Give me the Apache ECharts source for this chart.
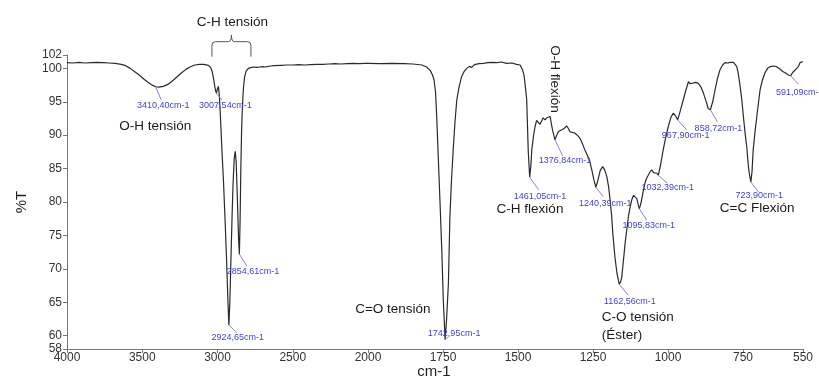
<!DOCTYPE html>
<html>
<head>
<meta charset="utf-8">
<script src="https://cdn.jsdelivr.net/npm/echarts@6/dist/echarts.min.js"></script>
<style>html,body{margin:0;padding:0;background:#fff}#c{width:819px;height:376px}</style>
</head>
<body>
<div id="c"></div>
<script>
// ---- data (wavenumber cm-1, %T) ----
const leftWn = [4000,3960,3920,3880,3840,3800,3760,3720,3680,3640,3610,3580,3550,3520,3490,3460,3430,3410,3390,3360,3330,3300,3270,3240,3210,3180,3150,3120,3090,3060,3045,3035,3025,3018,3012,3007.5,3001,2994,2988,2980,2970,2960,2950,2940,2932,2924.65,2918,2910,2903,2897,2889,2882,2876,2870,2864,2860,2854.6,2850,2845,2840,2835,2828,2820,2810,2795,2780,2760,2740,2720,2700,2685,2678,2670,2650,2620,2580,2540,2500,2460,2420,2380,2340,2300,2260,2220,2180,2140,2100,2060,2020,2000];
const leftT = [100.85,100.8,100.9,100.8,100.85,100.9,100.85,100.8,100.75,100.6,100.4,100.0,99.5,99.0,98.4,97.9,97.45,97.25,97.2,97.3,97.6,98.1,98.7,99.3,99.85,100.25,100.5,100.6,100.6,100.45,100.1,99.5,98.3,97.3,96.6,96.3,96.9,97.3,96.0,92.5,87.5,83,77.5,71.5,66,61.6,65,72,78,82.5,86.5,87.6,86,82,77.5,74.5,72.2,77,85,90.5,94,97,98.7,99.6,100.0,100.1,100.2,100.15,100.2,100.25,100.2,99.95,100.25,100.35,100.4,100.45,100.5,100.5,100.55,100.5,100.55,100.6,100.6,100.65,100.7,100.65,100.7,100.75,100.7,100.75,100.75];

const rightWn = [2000,1960,1920,1880,1850,1820,1805,1793,1785,1780,1775,1771,1766,1760,1754,1749,1742.95,1738,1732,1727,1722,1716,1710,1704,1696,1688,1680,1671,1662,1655,1645,1630,1616,1600,1585,1571,1555,1538,1520,1505,1493,1485,1480,1476,1471,1466,1461.05,1457,1454,1448,1443,1438,1432,1427,1421,1416,1410,1404,1398,1393,1388,1384,1376.84,1371,1366,1360,1354,1346,1338,1332,1327,1318,1310,1300,1293,1285,1277,1269,1262,1254,1247,1240.39,1234,1226,1218,1211,1204,1198,1193,1188,1184,1177,1170,1162.56,1158,1154,1148,1143,1137,1132,1126,1121,1115,1110,1104,1095.83,1092,1088,1083,1077,1071,1066,1060,1054,1048,1043,1037,1032.39,1025,1016,1008,999,990,982,975,967.9,960,949,940,932,926,920,908,899,890,882,874,866,858.72,851,843,835,827,818,810,800,793,788,782,777,771,766,760,754,748,743,737,732,728,723.9,720,716,710,704,698,693,685,677,668,660,650,638,627,616,608,599,595,591.09,587,582,577,571,565,560,555,551];
const rightT = [100.75,100.7,100.75,100.7,100.65,100.5,100.2,99.7,99.0,98.3,96.5,92.8,87,80,72.8,65.3,59.4,62.5,67.8,77.8,83,87.8,92,95.3,97.3,98.75,99.5,100,100.3,100.15,100.55,100.7,100.75,100.85,100.9,100.85,100.95,100.75,100.8,100.6,100.5,99.8,99.0,97.5,95.3,87.8,83.7,85.5,87.8,90,91.3,92.2,92.3,91.6,91.8,92.6,92.3,92.6,92.5,92.8,91.5,90.6,89.3,90.0,90.5,90.6,90.8,91.0,91.4,91.0,90.5,90.4,90.3,89.9,89.5,88.7,87.8,87.0,86.3,84.8,83.3,82.2,83.2,84.7,85.3,84.8,83.8,82.3,80.3,78,75.3,71.8,69.3,67.7,68.0,68.8,71.5,73.8,76,77.8,79.3,80.3,81,81.2,80.5,79.0,79.5,80.3,81.5,82.8,83.6,84.0,84.5,84.8,84.4,84.6,84.3,84.0,85.5,87.8,89.6,91.3,92.7,93.3,92.9,92.3,93.5,95.3,96.8,98,97.7,97.8,97.9,97.75,97.2,96.3,95.2,94.0,93.8,95,96.8,98.5,99.75,100.5,100.85,100.8,100.9,100.75,100.9,100.85,100.3,99.3,97.5,95.3,92.5,90.3,88,85.3,84,83,84.5,87.8,90.5,92.8,95,96.8,98.3,99.3,100,100.25,100.35,100.25,99.9,99.5,99.3,99.0,99.1,98.9,99.2,99.5,99.3,100,100.3,100.85,100.7,101.0];

// peak labels
const peakLeftWn = [3410.40, 3007.54, 2924.65, 2854.61];
const peakLeftT = [97.2, 96.3, 61.6, 72.2];
const peakLeftText = ['3410,40cm-1', '3007,54cm-1', '2924,65cm-1', '2854,61cm-1'];
const peakRightWn = [1742.95, 1461.05, 1376.84, 1240.39, 1162.56, 1095.83, 1032.39, 967.90, 858.72, 723.90, 591.09];
const peakRightT = [59.4, 83.7, 89.3, 82.2, 67.7, 79.0, 84.0, 92.3, 93.8, 83.0, 98.9];
const peakRightText = ['1742,95cm-1', '1461,05cm-1', '1376,84cm-1', '1240,39cm-1', '1162,56cm-1', '1095,83cm-1', '1032,39cm-1', '967,90cm-1', '858,72cm-1', '723,90cm-1', '591,09cm-1'];

// band annotations
const annLeftText = ['O-H tensión'];
const annLeftWn = [3414];
const annLeftT = [91.4];
const annRightText = ['C=O tensión', 'C-H flexión', 'C-O tensión', '(Éster)', 'C=C Flexión', 'O-H flexión'];
const annRightWn = [1917, 1460, 1221, 1221, 703, 1377];
const annRightT = [64.0, 78.9, 62.8, 60.1, 79.05, 98.4];

// axis ticks
const xTicksRight = [1750, 1500, 1250, 1000, 750, 550];
const yTicks = [58, 60, 65, 70, 75, 80, 85, 90, 95, 100, 102];
const bracketWn = [3037, 2778];
const bracketTitle = 'C-H tensión';

// ---- styling (offsets in px: lineDx, lineDy, textDx, textDy) ----
const peakLeftOff = [[5.5,13,7.5,18.5],[5.6,7,9,12.5],[8,8,9,13],[7.5,12,13.6,17]];
const peakRightOff = [[3,-3,9,-6],[9,12.5,10.3,19],[7.7,16,10,21],[7.4,9.4,9.4,16.7],[9,11,10.5,17],[7.4,11.4,9.5,17],[9,8,9.5,12.5],[9,10,8,16],[7,12,8,19],[7.5,10,8.4,14],[7.6,8.3,9,16.7]];
const annRightAlign = ['center','center','left','left','center','center'];
const annRightRot = [0,0,0,0,0,-Math.PI/2];

const FONT = "'Liberation Sans', Arial, sans-serif";
const chart = echarts.init(document.getElementById('c'), null, {renderer: 'canvas'});

function peakRender(offs, texts) {
  return function (params, api) {
    const i = params.dataIndexInside;
    const p = api.coord([api.value(0), api.value(1)]);
    const o = offs[i];
    return {
      type: 'group',
      children: [
        {type: 'line', shape: {x1: p[0], y1: p[1], x2: p[0] + o[0], y2: p[1] + o[1]},
         style: {stroke: '#8080e8', lineWidth: 1}},
        {type: 'text', x: p[0] + o[2], y: p[1] + o[3],
         style: {text: texts[i], fill: '#3f3fd8', font: '9px ' + FONT, align: 'center', verticalAlign: 'middle', textAlign: 'center', textVerticalAlign: 'middle'}}
      ]
    };
  };
}
function annRender(texts, aligns, rots) {
  return function (params, api) {
    const i = params.dataIndexInside;
    const p = api.coord([api.value(0), api.value(1)]);
    return {
      type: 'text', x: p[0], y: p[1], rotation: rots ? rots[i] : 0,
      style: {text: texts[i], fill: '#1a1a1a', font: '13.5px ' + FONT,
        align: aligns ? aligns[i] : 'center', textAlign: aligns ? aligns[i] : 'center',
        verticalAlign: 'middle', textVerticalAlign: 'middle'}
    };
  };
}

const axisLineStyle = {color: '#777', width: 1};
const plain = v => String(v);
const option = {
  animation: false,
  backgroundColor: '#ffffff',
  grid: [
    {left: 67, top: 55, width: 301, height: 294},
    {left: 368, top: 55, width: 435, height: 294}
  ],
  xAxis: [
    {type: 'value', gridIndex: 0, min: 2000, max: 4000, interval: 500, inverse: true,
     axisLine: {show: true, onZero: false, lineStyle: axisLineStyle},
     axisTick: {show: true, length: 4, lineStyle: axisLineStyle},
     axisLabel: {fontSize: 12, color: '#333', margin: 3, fontFamily: FONT, showMinLabel: true, showMaxLabel: true, formatter: plain},
     splitLine: {show: false}},
    {type: 'value', gridIndex: 1, min: 550, max: 2000, inverse: true,
     axisLine: {show: true, onZero: false, lineStyle: axisLineStyle},
     axisTick: {show: true, length: 4, lineStyle: axisLineStyle, customValues: xTicksRight},
     axisLabel: {fontSize: 12, color: '#333', margin: 3, fontFamily: FONT, customValues: xTicksRight, formatter: plain},
     splitLine: {show: false}}
  ],
  yAxis: [
    {type: 'value', gridIndex: 0, min: 58, max: 102,
     axisLine: {show: true, onZero: false, lineStyle: axisLineStyle},
     axisTick: {show: true, length: 4, lineStyle: axisLineStyle, customValues: yTicks},
     axisLabel: {fontSize: 12, color: '#333', margin: 5, fontFamily: FONT, customValues: yTicks, formatter: plain},
     splitLine: {show: false},
     name: '%T', nameLocation: 'middle', nameGap: 38, nameRotate: 90,
     nameTextStyle: {fontSize: 15, color: '#222', fontFamily: FONT}},
    {type: 'value', gridIndex: 1, min: 58, max: 102, show: false, splitLine: {show: false}}
  ],
  graphic: [
    {type: 'text', x: 434, y: 364, style: {text: 'cm-1', fill: '#222', font: '15px ' + FONT, align: 'center', verticalAlign: 'top', textAlign: 'center', textVerticalAlign: 'top'}}
  ],
  series: [
    {type: 'line', xAxisIndex: 0, yAxisIndex: 0, showSymbol: false, symbol: 'none',
     lineStyle: {color: '#2a2a2a', width: 1.2}, data: leftWn.map((w, i) => [w, leftT[i]])},
    {type: 'line', xAxisIndex: 1, yAxisIndex: 1, showSymbol: false, symbol: 'none',
     lineStyle: {color: '#2a2a2a', width: 1.2}, data: rightWn.map((w, i) => [w, rightT[i]])},
    {type: 'custom', xAxisIndex: 0, yAxisIndex: 0, clip: false, z: 5,
     renderItem: peakRender(peakLeftOff, peakLeftText), data: peakLeftWn.map((w, i) => [w, peakLeftT[i]])},
    {type: 'custom', xAxisIndex: 1, yAxisIndex: 1, clip: false, z: 5,
     renderItem: peakRender(peakRightOff, peakRightText), data: peakRightWn.map((w, i) => [w, peakRightT[i]])},
    {type: 'custom', xAxisIndex: 0, yAxisIndex: 0, clip: false, z: 5,
     renderItem: annRender(annLeftText, null, null), data: annLeftWn.map((w, i) => [w, annLeftT[i]])},
    {type: 'custom', xAxisIndex: 1, yAxisIndex: 1, clip: false, z: 5,
     renderItem: annRender(annRightText, annRightAlign, annRightRot), data: annRightWn.map((w, i) => [w, annRightT[i]])},
    {type: 'custom', xAxisIndex: 0, yAxisIndex: 0, clip: false, z: 5,
     data: [[bracketWn[0], bracketWn[1]]],
     renderItem: function (params, api) {
       const a = api.coord([api.value(0), 102]);
       const b = api.coord([api.value(1), 102]);
       const xl = a[0], xr = b[0], yb = a[1], xm = (xl + xr) / 2;
       const path = 'M' + xl + ',' + (yb + 1.7) + ' L' + xl + ',' + (yb - 10) +
         ' Q' + xl + ',' + (yb - 13.3) + ' ' + (xl + 3.5) + ',' + (yb - 13.3) +
         ' L' + (xm - 3) + ',' + (yb - 13.3) +
         ' Q' + xm + ',' + (yb - 13.3) + ' ' + xm + ',' + (yb - 20) +
         ' Q' + xm + ',' + (yb - 13.3) + ' ' + (xm + 3) + ',' + (yb - 13.3) +
         ' L' + (xr - 3.5) + ',' + (yb - 13.3) +
         ' Q' + xr + ',' + (yb - 13.3) + ' ' + xr + ',' + (yb - 10) +
         ' L' + xr + ',' + (yb + 1.7);
       return {type: 'group', children: [
         {type: 'path', shape: {pathData: path}, style: {stroke: '#555', lineWidth: 1, fill: null}},
         {type: 'text', x: xm + 1, y: yb - 32.5,
          style: {text: bracketTitle, fill: '#1a1a1a', font: '13.5px ' + FONT, align: 'center', verticalAlign: 'middle', textAlign: 'center', textVerticalAlign: 'middle'}}
       ]};
     }}
  ]
};
chart.setOption(option);
</script>
</body>
</html>
